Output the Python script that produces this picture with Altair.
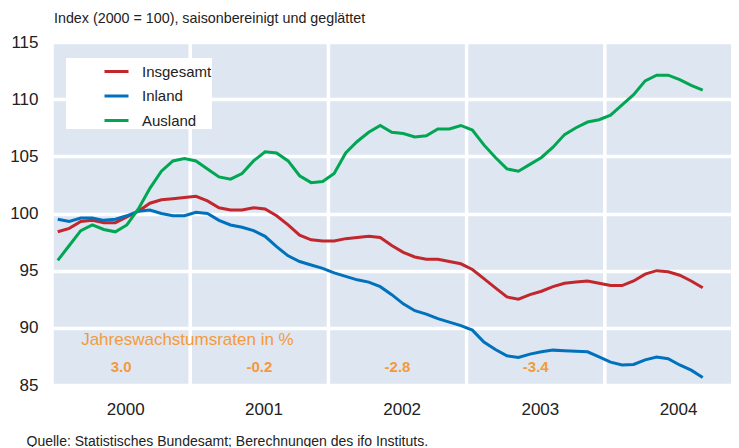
import altair as alt
import pandas as pd

# ---------------- data ----------------
series_names = ["Insgesamt", "Inland", "Ausland"]
series_colors = ["#C1272D", "#0071BC", "#00A651"]

# monthly values, Jan 2000 .. Sep 2004
insgesamt = [98.4, 98.7, 99.3, 99.4, 99.2, 99.2, 99.7, 100.2, 100.9, 101.2, 101.3, 101.4,
             101.5, 101.1, 100.5, 100.3, 100.3, 100.5, 100.4, 99.8, 99.0, 98.1, 97.7, 97.6,
             97.6, 97.8, 97.9, 98.0, 97.9, 97.2, 96.6, 96.2, 96.0, 96.0, 95.8, 95.6,
             95.1, 94.3, 93.5, 92.7, 92.5, 92.9, 93.2, 93.6, 93.9, 94.0, 94.1, 93.9,
             93.7, 93.7, 94.1, 94.7, 95.0, 94.9, 94.6, 94.1, 93.5]
inland = [99.5, 99.3, 99.6, 99.6, 99.4, 99.5, 99.8, 100.2, 100.3, 100.0, 99.8, 99.8,
          100.1, 100.0, 99.4, 99.0, 98.8, 98.5, 98.0, 97.1, 96.3, 95.8, 95.5, 95.2,
          94.8, 94.5, 94.2, 94.0, 93.6, 92.9, 92.1, 91.5, 91.2, 90.8, 90.5, 90.2,
          89.8, 88.75, 88.1, 87.55, 87.4, 87.7, 87.9, 88.05, 88.0, 87.95, 87.9, 87.45,
          87.0, 86.75, 86.8, 87.2, 87.45, 87.3, 86.75, 86.3, 85.65]
ausland = [95.9, 97.2, 98.5, 99.0, 98.6, 98.4, 99.0, 100.4, 102.2, 103.7, 104.6, 104.8,
           104.6, 103.9, 103.2, 103.0, 103.5, 104.6, 105.4, 105.3, 104.6, 103.3, 102.7, 102.8,
           103.5, 105.3, 106.3, 107.1, 107.7, 107.1, 107.0, 106.7, 106.8, 107.4, 107.4, 107.7,
           107.3, 106.0, 104.9, 103.9, 103.7, 104.3, 104.9, 105.8, 106.9, 107.5, 108.0, 108.2,
           108.6, 109.5, 110.4, 111.6, 112.1, 112.1, 111.7, 111.2, 110.8]

years = [2000, 2001, 2002, 2003, 2004]
growth_years = [2000, 2001, 2002, 2003]
growth_rates = ["3.0", "-0.2", "-2.8", "-3.4"]
y_ticks = [85, 90, 95, 100, 105, 110, 115]

title_text = "Index (2000 = 100), saisonbereinigt und geglättet"
source_text = "Quelle: Statistisches Bundesamt; Berechnungen des ifo Instituts."
growth_title = "Jahreswachstumsraten in %"

# ---------------- tables ----------------
rows = []
for name, vals in zip(series_names, [insgesamt, inland, ausland]):
    for i, v in enumerate(vals):
        rows.append({"t": 2000 + (i + 0.5) / 12, "value": v, "series": name})
df = pd.DataFrame(rows)

df_years = pd.DataFrame({"year": years})
df_growth = pd.DataFrame({"t": [y + 0.5 for y in growth_years], "label": growth_rates,
                          "value": [86.6] * len(growth_years)})
df_gtitle = pd.DataFrame({"t": [2000.98], "value": [88.9], "label": [growth_title]})

FONT = "Liberation Sans"
TXT = "#222222"
ORANGE = "#F39A3B"

x_scale = alt.Scale(domain=[2000, 2004.913], nice=False, zero=False)
y_scale = alt.Scale(domain=[85, 115], nice=False, zero=False)

x_axis = alt.Axis(values=[y + 0.53 for y in years], labelExpr="'' + floor(datum.value)",
                  tickSize=0, domain=False, grid=False, labelFontSize=17, labelPadding=16,
                  labelColor=TXT, labelFont=FONT,
                  title=source_text, titleFont=FONT, titleFontSize=14, titleFontWeight="normal",
                  titleColor=TXT, titleAnchor="start", titleAlign="left", titleBaseline="top",
                  titleX=-26, titleY=49)
y_axis = alt.Axis(values=y_ticks, tickSize=0, domain=False, grid=True, gridColor="white",
                  gridWidth=3.5, labelFontSize=17, labelPadding=14, labelColor=TXT,
                  labelFont=FONT, title=None)

rules = alt.Chart(df_years).mark_rule(color="white", strokeWidth=3.5).encode(
    x=alt.X("year:Q", scale=x_scale, axis=x_axis),
)

nbsp = "\u00a0" * 12
lines = alt.Chart(df).mark_line(strokeWidth=3).encode(
    x=alt.X("t:Q", scale=x_scale, axis=x_axis),
    y=alt.Y("value:Q", scale=y_scale, axis=y_axis),
    color=alt.Color("series:N",
                    scale=alt.Scale(domain=series_names, range=series_colors),
                    sort=series_names,
                    legend=alt.Legend(orient="none", legendX=14, legendY=16, title=None,
                                      fillColor="white", padding=0, symbolType="stroke",
                                      symbolSize=576, symbolStrokeWidth=3, symbolOffset=37,
                                      labelOffset=12, labelFontSize=15, labelColor=TXT,
                                      labelFont=FONT, rowPadding=2.5,
                                      labelExpr="datum.label + '" + nbsp + "'")),
)

growth = alt.Chart(df_growth).mark_text(color=ORANGE, fontWeight="bold", fontSize=15,
                                        font=FONT, baseline="middle").encode(
    x=alt.X("t:Q", scale=x_scale, axis=x_axis),
    y=alt.Y("value:Q", scale=y_scale, axis=y_axis),
    text="label:N",
)

gtitle = alt.Chart(df_gtitle).mark_text(color=ORANGE, fontSize=17, font=FONT,
                                        baseline="middle").encode(
    x=alt.X("t:Q", scale=x_scale, axis=x_axis),
    y=alt.Y("value:Q", scale=y_scale, axis=y_axis),
    text="label:N",
)

chart = alt.layer(rules, lines, growth, gtitle).properties(
    width=679, height=343,
    autosize=alt.AutoSizeParams(type="none"),
    padding={"left": 44, "top": 34, "right": 0, "bottom": 62},
    title=alt.TitleParams(title_text, anchor="start", frame="group", fontSize=14.3,
                          fontWeight="normal", font=FONT, color=TXT, offset=7, dx=2),
).configure(
    background="white",
    view=alt.ViewConfig(fill="#DEE6F2", stroke="transparent"),
)

chart.save("out.html", embed_options={"renderer": "svg", "actions": False})
